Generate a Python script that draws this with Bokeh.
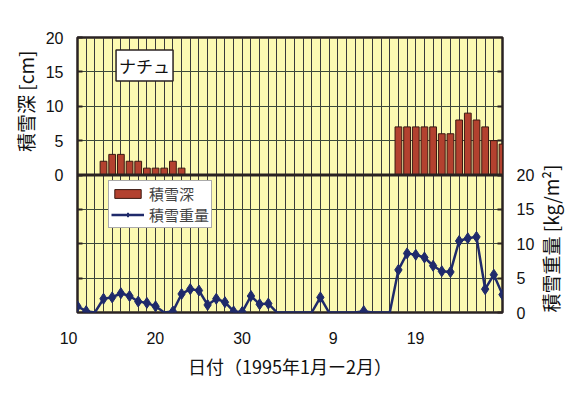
import math
import numpy as np
from bokeh.plotting import figure
from bokeh.models import Range1d, LinearAxis, FixedTicker, Label, Span, Title
from bokeh.embed import file_html
from bokeh.resources import INLINE

# day index 0 = Jan 10, 1995 ... 49 = Feb 28
days = list(range(50))
# snow depth [cm]
depth = [0, 0, 0, 2, 3, 3, 2, 2, 1, 1, 1, 2, 1] + [0] * 24 + \
        [7, 7, 7, 7, 7, 6, 6, 8, 9, 8, 7, 5, 4.5]
# snow weight [kg/m2]
weight = [0.9, 0.2, 0, 2.0, 2.2, 2.8, 2.4, 1.6, 1.4, 0.9,
          0, 0.15, 2.7, 3.4, 3.2, 1.1, 2.0, 1.5, 0.15, 0.1,
          2.4, 1.2, 1.3, 0, 0, 0, 0, 0, 2.2, 0,
          0, 0, 0, 0.2, 0, 0, 0, 6.2, 8.6, 8.4,
          8.0, 6.8, 6.0, 5.9, 10.4, 10.8, 11.0, 3.4, 5.5, 2.6]
tick_days = [0, 10, 20, 30, 40]
tick_labels = ["10", "20", "30", "9", "19"]
depth_ticks = [0, 5, 10, 15, 20]
weight_ticks = [0, 5, 10, 15, 20]

YELLOW = "#fcfab2"
FRAME = "#2a2222"
BAR = "#b3412f"
LINE = "#1f2a6b"
NUM_FONT = "Liberation Sans"
JP_FONT = "Noto Sans CJK JP"

p = figure(width=580, height=385, output_backend="svg", toolbar_location=None,
           x_range=Range1d(0, 49), y_range=Range1d(-20, 20),
           x_axis_location=None, y_axis_location=None,
           min_border_left=77, min_border_right=77,
           min_border_top=37, min_border_bottom=73)
p.extra_y_ranges = {"w": Range1d(0, 40)}
p.background_fill_color = YELLOW
p.border_fill_color = "white"
p.outline_line_color = FRAME
p.outline_line_width = 2.5

# grids
p.xgrid.ticker = FixedTicker(ticks=days)
p.xgrid.grid_line_color = "#3a3a3a"
p.xgrid.grid_line_width = 1
p.ygrid.ticker = FixedTicker(ticks=[-15, -10, -5, 5, 10, 15])
p.ygrid.grid_line_color = "#3d4a3a"
p.ygrid.grid_line_width = 1

# left axis (depth, upper panel labels only)
left_ticks = [-15, -10, -5] + depth_ticks
lax = LinearAxis(ticker=FixedTicker(ticks=left_ticks))
lax.major_label_overrides = {t: "" for t in [-15, -10, -5]}
# right axis (weight, lower panel labels only)
right_ticks = weight_ticks + [25, 30, 35]
rax = LinearAxis(y_range_name="w", ticker=FixedTicker(ticks=right_ticks))
rax.major_label_overrides = {t: "" for t in [25, 30, 35]}
# bottom axis: date labels (hung just left of each date, as in the original)
bax = LinearAxis(ticker=FixedTicker(ticks=tick_days))
bax.major_label_overrides = {d: t for d, t in zip(tick_days, tick_labels)}
bax.major_tick_line_color = None
bax.major_tick_in = 0
bax.major_tick_out = 0
bax.major_label_orientation = 0.0001
bax.major_label_standoff = 25
bax.axis_label = "日付（1995年1月ー2月）"
bax.axis_label_text_font = JP_FONT
bax.axis_label_text_font_size = "18px"
bax.axis_label_text_font_style = "normal"
bax.axis_label_text_color = "#111111"
bax.axis_label_standoff = 0

for ax in (lax, rax, bax):
    ax.axis_line_color = None
    ax.minor_tick_line_color = None
    ax.major_label_text_font = NUM_FONT
    ax.major_label_text_font_size = "16px"
    ax.major_label_text_color = "#111111"
for ax in (lax, rax):
    ax.major_tick_in = 5
    ax.major_tick_out = 0
    ax.major_tick_line_color = FRAME
    ax.major_tick_line_width = 2
    ax.major_label_standoff = 14

rax.axis_label = "積雪重量 [kg/m²]"
rax.axis_label_text_font = JP_FONT
rax.axis_label_text_font_size = "19px"
rax.axis_label_text_font_style = "normal"
rax.axis_label_text_color = "#111111"
rax.axis_label_standoff = 13
try:
    rax.axis_label_orientation = math.pi / 2
except Exception:
    pass
for _align in ("start", "left"):
    try:
        rax.axis_label_align = _align
        break
    except Exception:
        pass

p.add_layout(lax, "left")
p.add_layout(rax, "right")
p.add_layout(bax, "below")

# left title (upper panel only)
p.add_layout(Title(text="積雪深 [cm]", align="right", offset=13,
                   text_font=JP_FONT, text_font_size="19px",
                   text_font_style="normal", text_color="#111111",
                   standoff=8), "left")

# bars (snow depth)
d_arr = np.array(depth, dtype=float)
x_arr = np.array(days)
mask = d_arr > 0
p.vbar(x=x_arr[mask], top=d_arr[mask], bottom=0, width=0.78,
       fill_color=BAR, line_color="#3a1810", line_width=1,
       legend_label="積雪深")

# line (snow weight)
w_arr = np.array(weight, dtype=float)
p.line(x=x_arr, y=w_arr, y_range_name="w", line_color=LINE, line_width=2.5,
       legend_label="積雪重量")
wm = w_arr > 0.05
p.scatter(x=x_arr[wm], y=w_arr[wm], y_range_name="w", marker="diamond", size=11,
          fill_color=LINE, line_color=LINE, legend_label="積雪重量")

# panel divider
p.add_layout(Span(location=0, dimension="width", line_color=FRAME, line_width=3))

# legend
lg = p.legend[0]
lg.location = (31, 84)
lg.background_fill_color = "white"
lg.background_fill_alpha = 1
lg.border_line_color = "#555555"
lg.border_line_width = 1
lg.label_text_font = JP_FONT
lg.label_text_font_size = "15px"
lg.glyph_width = 33
lg.glyph_height = 11
lg.label_height = 11
lg.padding = 2
lg.spacing = 0
lg.margin = 0
lg.label_standoff = 5

# station name box
p.add_layout(Label(x=7.73, y=15.93, text="ナチュ", text_align="center",
                   text_baseline="middle", text_font=JP_FONT,
                   text_font_size="17px", text_color="#111111",
                   background_fill_color="white", border_line_color=FRAME,
                   border_line_width=1.5, padding=3))

open("out.html", "w").write(file_html(p, INLINE))
